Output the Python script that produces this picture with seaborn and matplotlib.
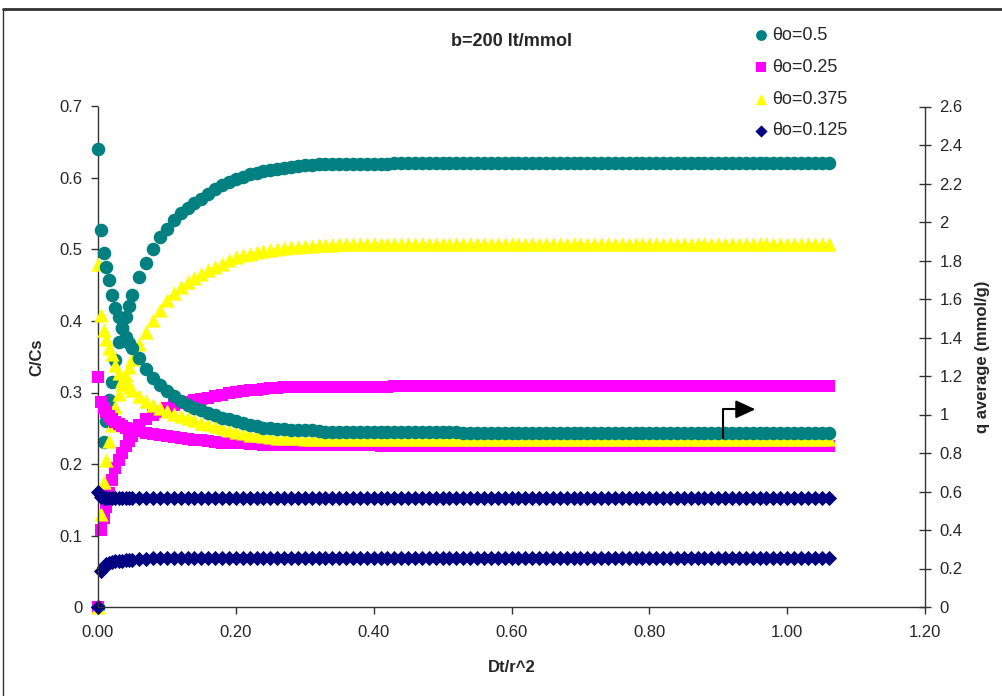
import matplotlib
matplotlib.use("Agg")
import matplotlib.pyplot as plt
from matplotlib.lines import Line2D
from matplotlib.ticker import FuncFormatter, MultipleLocator
import seaborn as sns

# Dt/r^2 grid
t = [0, 0.004, 0.008, 0.012, 0.016, 0.02, 0.025, 0.03, 0.035, 0.04, 0.045, 0.05,
     0.06, 0.07, 0.08, 0.09, 0.10, 0.11, 0.12, 0.13, 0.14, 0.15, 0.16, 0.17, 0.18, 0.19, 0.20,
     0.21, 0.22, 0.23, 0.24, 0.25, 0.26, 0.27, 0.28, 0.29, 0.30,
     0.31, 0.32, 0.33, 0.34, 0.35, 0.36, 0.37, 0.38, 0.39, 0.40,
     0.41, 0.42, 0.43, 0.44, 0.45, 0.46, 0.47, 0.48, 0.49, 0.50,
     0.51, 0.52, 0.53, 0.54, 0.55, 0.56, 0.57, 0.58, 0.59, 0.60,
     0.61, 0.62, 0.63, 0.64, 0.65, 0.66, 0.67, 0.68, 0.69, 0.70,
     0.71, 0.72, 0.73, 0.74, 0.75, 0.76, 0.77, 0.78, 0.79, 0.80,
     0.81, 0.82, 0.83, 0.84, 0.85, 0.86, 0.87, 0.88, 0.89, 0.90,
     0.91, 0.92, 0.93, 0.94, 0.95, 0.96, 0.97, 0.98, 0.99, 1.00,
     1.01, 1.02, 1.03, 1.04, 1.05, 1.06]

# C/Cs (left axis)
cc_05 = [0, 0.16, 0.231, 0.26, 0.29, 0.315, 0.345, 0.37, 0.39, 0.406, 0.421, 0.436,
         0.461, 0.481, 0.501, 0.517, 0.529, 0.541, 0.551, 0.558, 0.565, 0.571, 0.578, 0.585, 0.59, 0.595, 0.599,
         0.602, 0.605, 0.607, 0.61, 0.611, 0.613, 0.614, 0.616, 0.617, 0.618,
         0.618, 0.619, 0.619, 0.62, 0.62, 0.62, 0.62, 0.62, 0.62, 0.62,
         0.62, 0.62, 0.621, 0.621, 0.621, 0.621, 0.621, 0.621, 0.621, 0.621,
         0.621, 0.621, 0.621, 0.621, 0.621, 0.621, 0.621, 0.621, 0.621, 0.621,
         0.621, 0.621, 0.621, 0.621, 0.621, 0.621, 0.621, 0.621, 0.621, 0.621,
         0.621, 0.621, 0.621, 0.621, 0.621, 0.621, 0.621, 0.621, 0.621, 0.621,
         0.621, 0.621, 0.621, 0.621, 0.621, 0.621, 0.621, 0.621, 0.621, 0.621,
         0.621, 0.621, 0.621, 0.621, 0.621, 0.621, 0.621, 0.621, 0.621, 0.621,
         0.621, 0.621, 0.621, 0.621, 0.621, 0.621]
cc_025 = [0, 0.108, 0.125, 0.14, 0.16, 0.178, 0.194, 0.206, 0.216, 0.225, 0.232, 0.239,
          0.255, 0.263, 0.268, 0.273, 0.278, 0.282, 0.285, 0.287, 0.289, 0.291, 0.293, 0.295, 0.297, 0.299, 0.301,
          0.302, 0.303, 0.304, 0.305, 0.306, 0.306, 0.307, 0.307, 0.308, 0.308,
          0.308, 0.308, 0.308, 0.308, 0.308, 0.308, 0.308, 0.308, 0.308, 0.308,
          0.308, 0.308, 0.309, 0.309, 0.309, 0.309, 0.309, 0.309, 0.309, 0.309,
          0.309, 0.309, 0.309, 0.309, 0.309, 0.309, 0.309, 0.309, 0.309, 0.309,
          0.309, 0.309, 0.309, 0.309, 0.309, 0.309, 0.309, 0.309, 0.309, 0.309,
          0.309, 0.309, 0.309, 0.309, 0.309, 0.309, 0.309, 0.309, 0.309, 0.309,
          0.309, 0.309, 0.309, 0.309, 0.309, 0.309, 0.309, 0.309, 0.309, 0.309,
          0.309, 0.309, 0.309, 0.309, 0.309, 0.309, 0.309, 0.309, 0.309, 0.309,
          0.309, 0.309, 0.309, 0.309, 0.309, 0.309]
cc_0375 = [0, 0.13, 0.175, 0.205, 0.232, 0.255, 0.28, 0.298, 0.312, 0.325, 0.336, 0.347,
           0.368, 0.385, 0.401, 0.415, 0.429, 0.439, 0.447, 0.454, 0.46, 0.466, 0.471, 0.476, 0.48, 0.486, 0.489,
           0.492, 0.494, 0.496, 0.498, 0.5, 0.501, 0.502, 0.503, 0.504, 0.505,
           0.505, 0.506, 0.506, 0.506, 0.507, 0.507, 0.507, 0.507, 0.507, 0.507,
           0.507, 0.507, 0.508, 0.508, 0.508, 0.508, 0.508, 0.508, 0.508, 0.508,
           0.508, 0.508, 0.508, 0.508, 0.508, 0.508, 0.508, 0.508, 0.508, 0.508,
           0.508, 0.508, 0.508, 0.508, 0.508, 0.508, 0.508, 0.508, 0.508, 0.508,
           0.508, 0.508, 0.508, 0.508, 0.508, 0.508, 0.508, 0.508, 0.508, 0.508,
           0.508, 0.508, 0.508, 0.508, 0.508, 0.508, 0.508, 0.508, 0.508, 0.508,
           0.508, 0.508, 0.508, 0.508, 0.508, 0.508, 0.508, 0.508, 0.508, 0.508,
           0.508, 0.508, 0.508, 0.508, 0.508, 0.508]
cc_0125 = [0, 0.05, 0.056, 0.06, 0.062, 0.063, 0.064, 0.065, 0.065, 0.066, 0.066, 0.066,
           0.067, 0.067, 0.068, 0.068, 0.068, 0.068, 0.068, 0.068, 0.068, 0.068, 0.068, 0.068, 0.068, 0.068, 0.068,
           0.068, 0.068, 0.068, 0.068, 0.068, 0.068, 0.068, 0.068, 0.068, 0.068,
           0.068, 0.068, 0.068, 0.068, 0.068, 0.068, 0.068, 0.068, 0.068, 0.068,
           0.068, 0.068, 0.069, 0.069, 0.069, 0.069, 0.069, 0.069, 0.069, 0.069,
           0.069, 0.069, 0.069, 0.069, 0.069, 0.069, 0.069, 0.069, 0.069, 0.069,
           0.069, 0.069, 0.069, 0.069, 0.069, 0.069, 0.069, 0.069, 0.069, 0.069,
           0.069, 0.069, 0.069, 0.069, 0.069, 0.069, 0.069, 0.069, 0.069, 0.069,
           0.069, 0.069, 0.069, 0.069, 0.069, 0.069, 0.069, 0.069, 0.069, 0.069,
           0.069, 0.069, 0.069, 0.069, 0.069, 0.069, 0.069, 0.069, 0.069, 0.069,
           0.069, 0.069, 0.069, 0.069, 0.069, 0.069]

# q average (right axis, mmol/g)
q_05 = [2.377, 1.961, 1.839, 1.764, 1.697, 1.619, 1.553, 1.504, 1.449, 1.404, 1.371, 1.345,
        1.296, 1.237, 1.189, 1.155, 1.122, 1.096, 1.07, 1.051, 1.036, 1.021, 1.007, 0.995, 0.984, 0.977, 0.966,
        0.958, 0.947, 0.94, 0.932, 0.929, 0.925, 0.925, 0.921, 0.921, 0.917,
        0.917, 0.914, 0.91, 0.91, 0.91, 0.91, 0.91, 0.91, 0.91, 0.91,
        0.91, 0.91, 0.91, 0.91, 0.91, 0.91, 0.91, 0.91, 0.91, 0.91,
        0.91, 0.91, 0.903, 0.903, 0.903, 0.903, 0.903, 0.903, 0.903, 0.903,
        0.903, 0.903, 0.903, 0.903, 0.903, 0.903, 0.903, 0.903, 0.903, 0.903,
        0.903, 0.903, 0.903, 0.903, 0.903, 0.903, 0.903, 0.903, 0.903, 0.903,
        0.903, 0.903, 0.903, 0.903, 0.903, 0.903, 0.903, 0.903, 0.903, 0.903,
        0.903, 0.903, 0.903, 0.903, 0.903, 0.903, 0.903, 0.903, 0.903, 0.903,
        0.903, 0.903, 0.903, 0.903, 0.903, 0.903]
q_025 = [1.196, 1.066, 1.036, 1.014, 0.992, 0.977, 0.962, 0.951, 0.94, 0.932, 0.925, 0.921,
         0.914, 0.903, 0.899, 0.891, 0.888, 0.884, 0.88, 0.873, 0.869, 0.865, 0.862, 0.858, 0.854, 0.854, 0.851,
         0.851, 0.847, 0.847, 0.843, 0.843, 0.843, 0.839, 0.839, 0.839, 0.839,
         0.839, 0.839, 0.839, 0.839, 0.839, 0.839, 0.839, 0.839, 0.839, 0.839,
         0.836, 0.836, 0.836, 0.836, 0.836, 0.836, 0.836, 0.836, 0.836, 0.836,
         0.836, 0.836, 0.836, 0.836, 0.836, 0.836, 0.836, 0.836, 0.836, 0.836,
         0.836, 0.836, 0.836, 0.836, 0.836, 0.836, 0.836, 0.836, 0.836, 0.836,
         0.836, 0.836, 0.836, 0.836, 0.836, 0.836, 0.836, 0.836, 0.836, 0.836,
         0.836, 0.836, 0.836, 0.836, 0.836, 0.836, 0.836, 0.836, 0.836, 0.836,
         0.836, 0.836, 0.836, 0.836, 0.836, 0.836, 0.836, 0.836, 0.836, 0.836,
         0.836, 0.836, 0.836, 0.836, 0.836, 0.836]
q_0375 = [1.783, 1.515, 1.441, 1.393, 1.348, 1.315, 1.255, 1.215, 1.181, 1.163, 1.144, 1.129,
          1.096, 1.07, 1.051, 1.033, 1.018, 1.003, 0.992, 0.981, 0.969, 0.958, 0.951, 0.94, 0.929, 0.917, 0.91,
          0.903, 0.895, 0.891, 0.888, 0.884, 0.88, 0.88, 0.877, 0.877, 0.873,
          0.873, 0.873, 0.873, 0.873, 0.873, 0.873, 0.873, 0.873, 0.873, 0.873,
          0.873, 0.873, 0.873, 0.873, 0.873, 0.873, 0.873, 0.873, 0.873, 0.873,
          0.873, 0.873, 0.873, 0.873, 0.873, 0.873, 0.873, 0.873, 0.873, 0.873,
          0.873, 0.873, 0.873, 0.873, 0.873, 0.873, 0.873, 0.873, 0.873, 0.873,
          0.873, 0.873, 0.873, 0.873, 0.873, 0.873, 0.873, 0.873, 0.873, 0.873,
          0.873, 0.873, 0.873, 0.873, 0.873, 0.873, 0.873, 0.873, 0.873, 0.873,
          0.873, 0.873, 0.873, 0.873, 0.873, 0.873, 0.873, 0.873, 0.873, 0.873,
          0.873, 0.873, 0.873, 0.873, 0.873, 0.873]
q_0125 = [0.598, 0.572, 0.565, 0.565, 0.565, 0.565, 0.565, 0.565, 0.565, 0.565, 0.565, 0.565,
          0.565, 0.565, 0.565, 0.565, 0.565, 0.565, 0.565, 0.565, 0.565, 0.565, 0.565, 0.565, 0.565, 0.565, 0.565,
          0.565, 0.565, 0.565, 0.565, 0.565, 0.565, 0.565, 0.565, 0.565, 0.565,
          0.565, 0.565, 0.565, 0.565, 0.565, 0.565, 0.565, 0.565, 0.565, 0.565,
          0.565, 0.565, 0.565, 0.565, 0.565, 0.565, 0.565, 0.565, 0.565, 0.565,
          0.565, 0.565, 0.565, 0.565, 0.565, 0.565, 0.565, 0.565, 0.565, 0.565,
          0.565, 0.565, 0.565, 0.565, 0.565, 0.565, 0.565, 0.565, 0.565, 0.565,
          0.565, 0.565, 0.565, 0.565, 0.565, 0.565, 0.565, 0.565, 0.565, 0.565,
          0.565, 0.565, 0.565, 0.565, 0.565, 0.565, 0.565, 0.565, 0.565, 0.565,
          0.565, 0.565, 0.565, 0.565, 0.565, 0.565, 0.565, 0.565, 0.565, 0.565,
          0.565, 0.565, 0.565, 0.565, 0.565, 0.565]

labels = ["θo=0.5", "θo=0.25", "θo=0.375", "θo=0.125"]
colors = ["#008080", "#FF00FF", "#FFFF00", "#000080"]
markers = ["o", "s", "^", "D"]
sizes = [95, 70, 105, 60]

sns.set_style("white")
plt.rcParams["font.family"] = ["Liberation Sans", "DejaVu Sans"]

fig = plt.figure(figsize=(10.02, 6.96), dpi=100)
ax = fig.add_axes([98 / 1002, 1 - 607 / 696, 827 / 1002, 500.5 / 696])
ax2 = ax.twinx()

cc_series = [cc_05, cc_025, cc_0375, cc_0125]
q_series = [q_05, q_025, q_0375, q_0125]

for y, lab, c, m, s in zip(cc_series, labels, colors, markers, sizes):
    sns.scatterplot(x=t, y=y, ax=ax, color=c, marker=m, s=s, linewidth=0, label=lab,
                    legend=False, clip_on=False)

# draw order on the right axis
for i in [1, 2, 0, 3]:
    sns.scatterplot(x=t, y=q_series[i], ax=ax2, color=colors[i], marker=markers[i],
                    s=sizes[i], linewidth=0, legend=False, clip_on=False)

ax.set_xlim(0, 1.2)
ax.set_ylim(0, 0.7)
ax2.set_ylim(0, 2.6)
ax.xaxis.set_major_locator(MultipleLocator(0.2))
ax.yaxis.set_major_locator(MultipleLocator(0.1))
ax2.yaxis.set_major_locator(MultipleLocator(0.2))
ax.xaxis.set_major_formatter(FuncFormatter(lambda v, p: f"{v:.2f}"))
ax.yaxis.set_major_formatter(FuncFormatter(lambda v, p: f"{round(v, 2):g}"))
ax2.yaxis.set_major_formatter(FuncFormatter(lambda v, p: f"{round(v, 2):g}"))

for a in (ax, ax2):
    for sp in a.spines.values():
        sp.set_visible(False)
        sp.set_color("#333333")
        sp.set_linewidth(1.0)
ax.spines["left"].set_visible(True)
ax.spines["bottom"].set_visible(True)
ax2.spines["right"].set_visible(True)

ax.tick_params(axis="x", direction="out", length=5, width=1, color="#333333", labelsize=12, pad=8, bottom=True)
ax.tick_params(axis="y", direction="out", length=5, width=1, color="#333333", labelsize=12, pad=6, left=True)
ax2.tick_params(axis="y", direction="inout", length=9, width=1, color="#333333", labelsize=12, pad=6, right=True)
ax.grid(False)
ax2.grid(False)

ax.set_xlabel("Dt/r^2", fontsize=12, fontweight="bold", labelpad=14)
ax.set_ylabel("C/Cs", fontsize=12, fontweight="bold", labelpad=11)
ax2.set_ylabel("q average (mmol/g)", fontsize=12, fontweight="bold", labelpad=9)

fig.text(0.51, 1 - 42 / 696, "b=200 lt/mmol", fontsize=13, fontweight="bold", ha="center", va="center")

# arrow pointing to the right-hand axis
ax2.plot([0.907, 0.907, 0.94], [0.236, 0.2765, 0.2765], color="black", lw=1.5,
         transform=ax.transData, zorder=10)
ax2.annotate("", xy=(0.958, 0.2765), xytext=(0.935, 0.2765), xycoords=ax.transData,
             textcoords=ax.transData,
             arrowprops=dict(arrowstyle="-|>,head_length=1.2,head_width=0.55", color="black", lw=1.5),
             zorder=10)

handles, labs = ax.get_legend_handles_labels()
fig.legend(handles, labs, loc="upper left", bbox_to_anchor=(740 / 1002, 1 - 18 / 696),
           frameon=False, fontsize=13, handletextpad=0.0, labelspacing=0.82,
           borderpad=0, handlelength=1.3, markerscale=0.8)

# chart area border
fig.add_artist(Line2D([3 / 1002, 1], [1 - 9 / 696, 1 - 9 / 696], color="#333333", lw=2))
fig.add_artist(Line2D([3 / 1002, 3 / 1002], [0, 1 - 9 / 696], color="#333333", lw=1))

fig.savefig("out.png", dpi=100)
